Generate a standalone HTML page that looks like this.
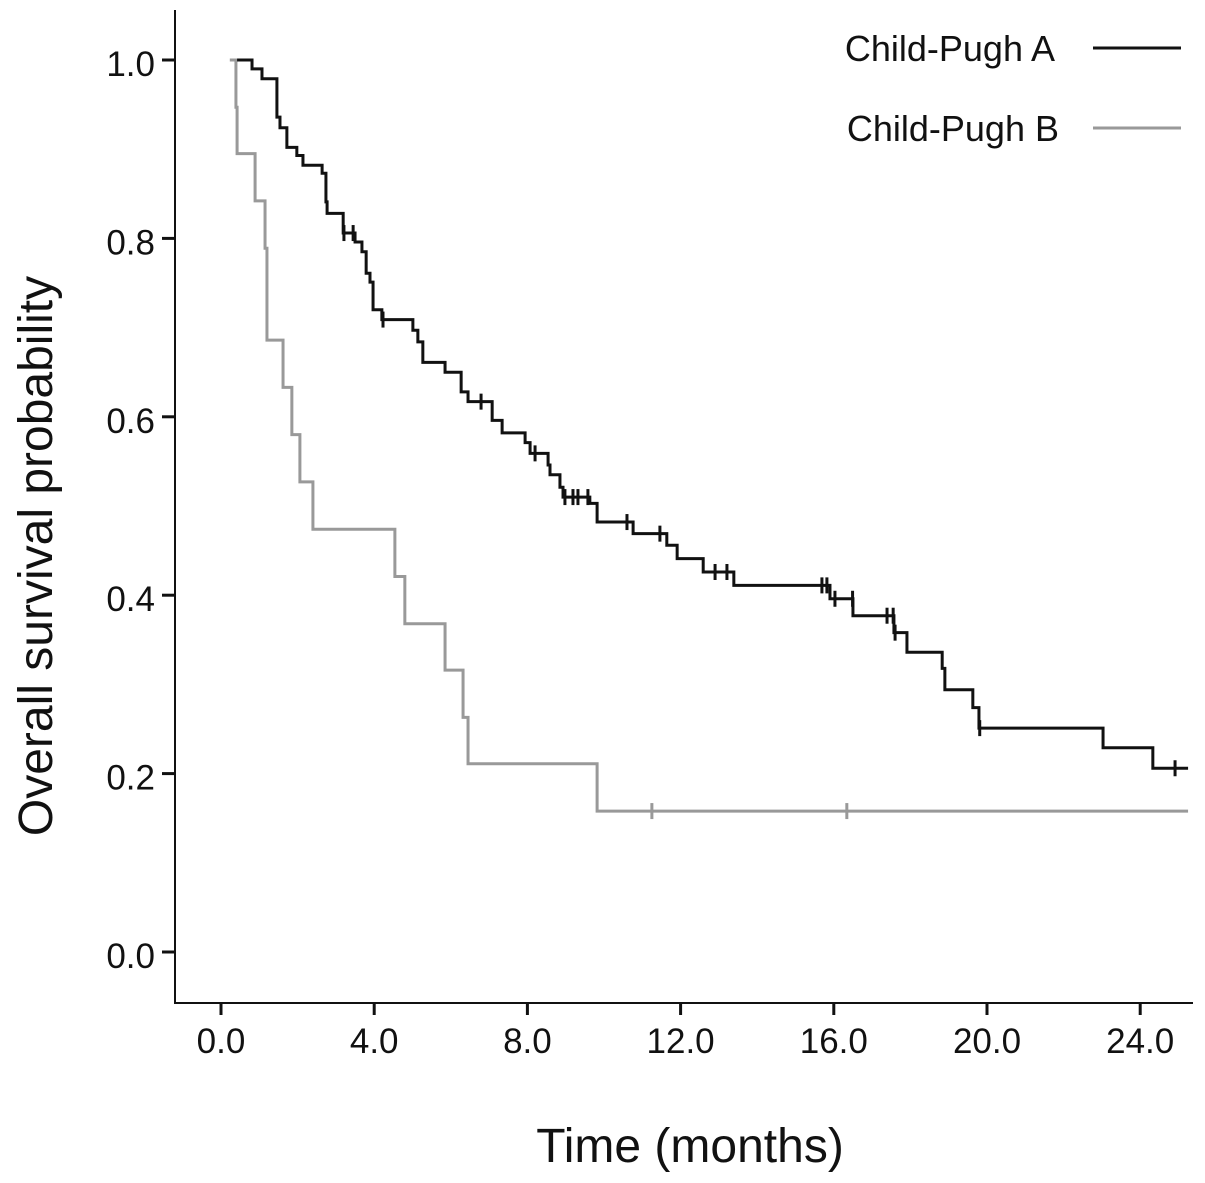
<!DOCTYPE html>
<html><head><meta charset="utf-8"><style>
html,body{margin:0;padding:0;background:#fff;}
svg{display:block;font-family:"Liberation Sans",Arial,sans-serif;}
</style></head><body>
<svg id="chart" width="1205" height="1183" viewBox="0 0 1205 1183" xmlns="http://www.w3.org/2000/svg">
<g id="axes"></g>
<g id="series"></g>
<text transform="translate(52,556) rotate(-90)" text-anchor="middle" font-size="48" fill="#111">Overall survival probability</text>
<text x="690" y="1162" text-anchor="middle" font-size="48" fill="#111">Time (months)</text>
<g>
<text x="1055" y="61" text-anchor="end" font-size="36" fill="#111">Child-Pugh A</text>
<line x1="1093" y1="48" x2="1181" y2="48" stroke="#111" stroke-width="3"/>
<text x="1059" y="141" text-anchor="end" font-size="36" fill="#111">Child-Pugh B</text>
<line x1="1093" y1="128" x2="1181" y2="128" stroke="#999" stroke-width="3"/>
</g>
</svg>
<script>
const xTicks = [0, 4, 8, 12, 16, 20, 24];
const xTickLabels = ["0.0", "4.0", "8.0", "12.0", "16.0", "20.0", "24.0"];
const yTicks = [0, 0.2, 0.4, 0.6, 0.8, 1.0];
const yTickLabels = ["0.0", "0.2", "0.4", "0.6", "0.8", "1.0"];
const aTimes = [0.42,0.81,1.07,1.46,1.54,1.72,1.98,2.14,2.64,2.74,2.77,3.19,3.50,3.68,3.79,3.89,3.97,4.20,5.01,5.14,5.27,5.85,6.27,6.45,7.08,7.34,7.94,8.07,8.54,8.59,8.85,8.93,9.63,9.82,10.76,11.64,11.91,12.59,13.39,15.90,16.50,17.57,17.91,18.83,18.90,19.63,19.79,23.03,24.33];
const aSurv = [1.0,0.990,0.979,0.936,0.924,0.902,0.893,0.882,0.873,0.841,0.828,0.806,0.796,0.785,0.761,0.751,0.720,0.709,0.697,0.684,0.661,0.650,0.628,0.617,0.596,0.582,0.571,0.559,0.546,0.535,0.521,0.510,0.503,0.482,0.469,0.456,0.441,0.426,0.411,0.396,0.377,0.358,0.336,0.318,0.294,0.274,0.251,0.229,0.206];
const aCensor = [3.21,3.45,4.23,6.79,8.20,8.98,9.19,9.32,9.58,10.60,11.46,12.90,13.21,15.69,15.82,16.03,16.49,17.39,17.55,17.60,19.81,24.91];
const bTimes = [0.23,0.39,0.42,0.89,1.15,1.20,1.62,1.85,2.06,2.40,4.54,4.80,5.85,6.32,6.45,9.82];
const bSurv = [1.0,0.947,0.895,0.842,0.789,0.686,0.633,0.580,0.527,0.474,0.421,0.368,0.316,0.263,0.211,0.158];
const bCensor = [11.25,16.34];
const tEnd = 25.25;

const NS = "http://www.w3.org/2000/svg";
const X0 = 221, XS = 38.3, Y0 = 952, YS = 892;
function xs(t){ return X0 + XS * t; }
function ys(s){ return Y0 - YS * s; }
function mk(tag, attrs, parent){
  const e = document.createElementNS(NS, tag);
  for (const k in attrs) e.setAttribute(k, attrs[k]);
  parent.appendChild(e);
  return e;
}
const axes = document.getElementById('axes');
const ser = document.getElementById('series');

const yAxis = mk('line', {x1:175, y1:10, x2:175, y2:1004, stroke:'#111', 'stroke-width':2}, axes);


const xAxis = mk('line', {x1:174, y1:1003, x2:1193, y2:1003, stroke:'#111', 'stroke-width':2}, axes);



xTicks.forEach((v, i) => {
  const t = mk('line', {x1:xs(v), y1:1003, x2:xs(v), y2:1015, stroke:'#111', 'stroke-width':3}, axes);
  
  
  const l = mk('text', {x:xs(v), y:1053, 'text-anchor':'middle', 'font-size':35, fill:'#111'}, axes);
  
  
  l.textContent = xTickLabels[i];
});
yTicks.forEach((v, i) => {
  const t = mk('line', {x1:162, y1:ys(v), x2:175, y2:ys(v), stroke:'#111', 'stroke-width':3}, axes);
  
  
  const l = mk('text', {x:155, y:ys(v)+16, 'text-anchor':'end', 'font-size':35, fill:'#111'}, axes);
  
  
  l.textContent = yTickLabels[i];
});

function survAt(times, surv, t){
  let s = surv[0];
  for (let i = 0; i < times.length; i++) if (times[i] <= t) s = surv[i];
  return s;
}
function drawCurve(times, surv, censor, color, name){
  let d = 'M' + xs(times[0]) + ',' + ys(surv[0]);
  for (let i = 1; i < times.length; i++){
    d += ' H' + xs(times[i]) + ' V' + ys(surv[i]);
  }
  d += ' H' + xs(tEnd);
  const p = mk('path', {d:d, fill:'none', stroke:color, 'stroke-width':3}, ser);
  
  
  censor.forEach(c => {
    const s = survAt(times, surv, c);
    const m = mk('line', {x1:xs(c), y1:ys(s)-8, x2:xs(c), y2:ys(s)+8, stroke:color, 'stroke-width':3}, ser);
    
    
  });
}
drawCurve(bTimes, bSurv, bCensor, '#999', 'child-pugh-b');
drawCurve(aTimes, aSurv, aCensor, '#111', 'child-pugh-a');
</script>
</body></html>
